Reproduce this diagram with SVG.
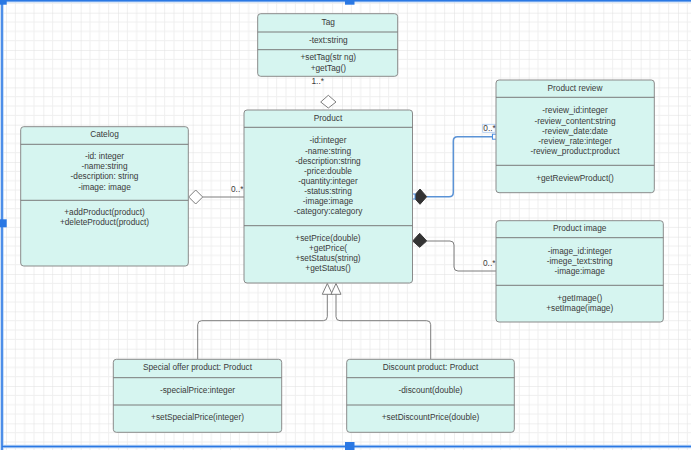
<svg xmlns="http://www.w3.org/2000/svg" width="691" height="450" viewBox="0 0 691 450">
<defs>
<pattern id="grid" patternUnits="userSpaceOnUse" x="6" y="12.7" width="37.333" height="37.333">
<path d="M9.333,0V37.333M18.667,0V37.333M28,0V37.333M0,9.333H37.333M0,18.667H37.333M0,28H37.333" stroke="#efefef" stroke-width="1" fill="none"/>
<path d="M0,0V37.333M0,0H37.333" stroke="#e0e0e0" stroke-width="1" fill="none"/>
</pattern>
<style>
.box{fill:#d6f5f0;stroke:#8a8a8a;stroke-width:1}
.div{stroke:#7a7a7a;stroke-width:1}
text{font-family:"Liberation Sans",Arial,sans-serif;font-size:8.3px;fill:#3a3a3a;text-anchor:middle}
.lbl{text-anchor:start}
.conn{fill:none;stroke:#7d7d7d;stroke-width:1}
.sel{fill:none;stroke:#5b93d6;stroke-width:1.5}
.hollow{fill:#ffffff;stroke:#7d7d7d;stroke-width:1}
.filled{fill:#333333;stroke:#333333;stroke-width:1}
.handle{fill:#2a78e4}
</style>
</defs>
<rect width="691" height="450" fill="#ffffff"/>
<rect width="691" height="450" fill="url(#grid)"/>

<g id="connectors">
<path class="conn" d="M202.7,197H244"/>
<path class="hollow" d="M188.7,197L195.7,190L202.7,197L195.7,204Z"/>
<path class="hollow" d="M320.7,102L328.3,95.3L336,102L328.3,108Z"/>
<path class="sel" d="M426.7,196.7H449Q453.3,196.7 453.3,192.4V141Q453.3,136.7 457.6,136.7H495"/>
<path class="filled" d="M413.3,196.7L420,189L426.7,196.7L420,204.3Z"/>
<rect x="410" y="194" width="5" height="5" fill="#ffffff" stroke="#4a90e2" stroke-width="1"/>
<rect x="492.5" y="134.2" width="5" height="5" fill="#ffffff" stroke="#4a90e2" stroke-width="1"/>
<path class="conn" d="M426.7,241H450Q454,241 454,245V267Q454,271 458,271H496"/>
<path class="filled" d="M412.7,241L419.7,233.3L426.7,241L419.7,247.3Z"/>
<path class="conn" d="M327.3,294.3V316.7Q327.3,320.7 323.3,320.7H201.7Q197.7,320.7 197.7,324.7V359.3"/>
<path class="conn" d="M336,294.3V316.7Q336,320.7 340,320.7H426.7Q430.7,320.7 430.7,324.7V359.3"/>
<path class="hollow" d="M327.3,283.5L332.3,294.3H322.3Z"/>
<path class="hollow" d="M336,283.5L341,294.3H331Z"/>
<text class="lbl" x="231" y="192">0..*</text>
<text class="lbl" x="311.5" y="83.5">1..*</text>
<rect x="482.7" y="124.3" width="12.5" height="8" fill="#ffffff" fill-opacity="0.6" stroke="#a9c8ee" stroke-width="0.8"/>
<text class="lbl" x="483.3" y="131">0..*</text>
<text class="lbl" x="483" y="265.5">0..*</text>
</g>

<g id="tag">
<rect class="box" x="257.7" y="13.7" width="140" height="62.6" rx="3"/>
<path class="div" d="M257.7,32H397.7M257.7,49.7H397.7"/>
<text x="328.3" y="25">Tag</text>
<text x="328.3" y="42.7">-text:string</text>
<text x="328.3" y="60">+setTag(str ng)</text>
<text x="328.3" y="71">+getTag()</text>
</g>

<g id="product">
<rect class="box" x="244" y="110" width="168.5" height="173" rx="3"/>
<path class="div" d="M244,127.3H412.5M244,225.7H412.5"/>
<text x="328" y="121">Product</text>
<text x="328" y="143">-id:integer</text>
<text x="328" y="153.7">-name:string</text>
<text x="328" y="163.7">-description:string</text>
<text x="328" y="173.7">-price:double</text>
<text x="328" y="184">-quantity:integer</text>
<text x="328" y="194">-status:string</text>
<text x="328" y="204.3">-image:image</text>
<text x="328" y="214.3">-category:category</text>
<text x="328" y="241.3">+setPrice(double)</text>
<text x="328" y="251.3">+getPrice(</text>
<text x="328" y="261.3">+setStatus(string)</text>
<text x="328" y="271.3">+getStatus()</text>
</g>

<g id="catelog">
<rect class="box" x="20.7" y="126.7" width="167.6" height="139.3" rx="3"/>
<path class="div" d="M20.7,144.3H188.3M20.7,200.3H188.3"/>
<text x="104.5" y="137">Catelog</text>
<text x="104.5" y="159">-id: integer</text>
<text x="104.5" y="169.3">-name:string</text>
<text x="104.5" y="179.3">-description: string</text>
<text x="104.5" y="189.7">-image: image</text>
<text x="104.5" y="214.7">+addProduct(product)</text>
<text x="104.5" y="225">+deleteProduct(product)</text>
</g>

<g id="product-review">
<rect class="box" x="496" y="80" width="158.3" height="112.7" rx="3"/>
<path class="div" d="M496,97.3H654.3M496,165.3H654.3"/>
<text x="575" y="91.3">Product review</text>
<text x="575" y="113.3">-review_id:integer</text>
<text x="575" y="123.7">-review_content:string</text>
<text x="575" y="134">-review_date:date</text>
<text x="575" y="144.3">-review_rate:integer</text>
<text x="575" y="154.3">-review_product:product</text>
<text x="575" y="181.3">+getReviewProduct()</text>
</g>

<g id="product-image">
<rect class="box" x="496" y="220.7" width="167.3" height="101.3" rx="3"/>
<path class="div" d="M496,237.7H663.3M496,285.3H663.3"/>
<text x="579.7" y="231.3">Product image</text>
<text x="579.7" y="253.7">-image_id:integer</text>
<text x="579.7" y="263.7">-imege_text:string</text>
<text x="579.7" y="274">-image:image</text>
<text x="579.7" y="301">+getImage()</text>
<text x="579.7" y="311">+setImage(image)</text>
</g>

<g id="special-offer-product">
<rect class="box" x="113.3" y="359.3" width="168.4" height="73" rx="3"/>
<path class="div" d="M113.3,377.7H281.7M113.3,405H281.7"/>
<text x="197.5" y="370.3">Special offer product: Product</text>
<text x="197.5" y="393">-specialPrice:integer</text>
<text x="197.5" y="420.3">+setSpecialPrice(integer)</text>
</g>

<g id="discount-product">
<rect class="box" x="346.7" y="359.3" width="167.6" height="73" rx="3"/>
<path class="div" d="M346.7,377.7H514.3M346.7,405H514.3"/>
<text x="430.5" y="370.3">Discount product: Product</text>
<text x="430.5" y="393">-discount(double)</text>
<text x="430.5" y="420.3">+setDiscountPrice(double)</text>
</g>

<g id="selection">
<path d="M2,0.8H691M2,0.8V450M2,446.5H691" fill="none" stroke="#b9d3f5" stroke-width="3.5"/>
<path d="M2,0.8H691M2,0.8V450M2,446.5H691" fill="none" stroke="#2a78e4" stroke-width="1.5"/>
<rect class="handle" x="-3" y="-4" width="9.7" height="8.7"/>
<rect class="handle" x="345" y="-4" width="9.5" height="8.7"/>
<rect class="handle" x="-3" y="219.3" width="9.7" height="8"/>
<rect class="handle" x="345" y="442" width="9.5" height="8.5"/>
</g>
</svg>
